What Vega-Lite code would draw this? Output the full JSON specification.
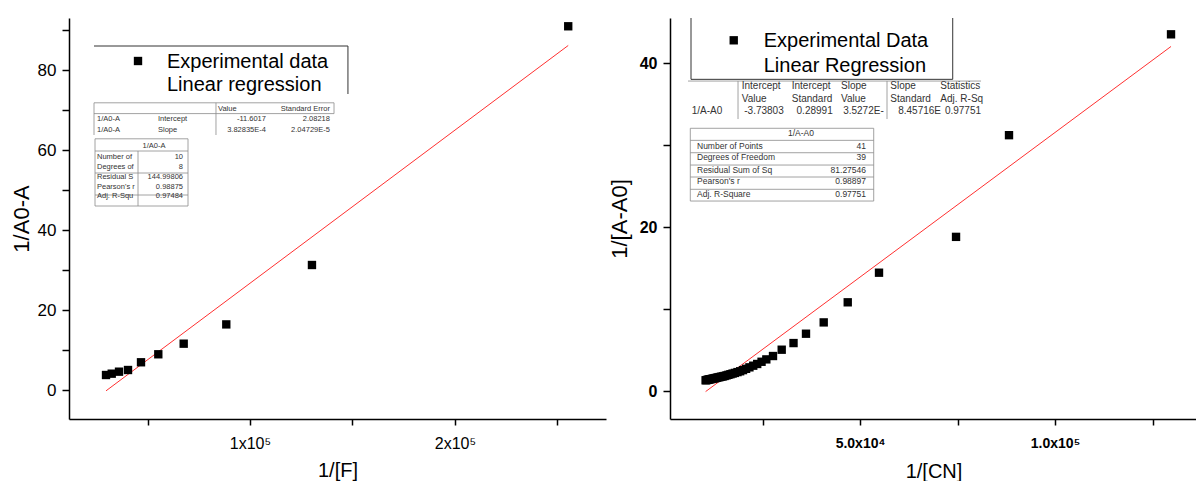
{
  "$schema": "https://vega.github.io/schema/vega-lite/v6.json",
  "background": "white",
  "padding": {"left": 10, "top": 17, "right": 0, "bottom": 0},
  "spacing": 64,
  "bounds": "flush",
  "config": {
    "view": {"stroke": null},
    "font": "Liberation Sans",
    "axis": {
      "grid": false,
      "domainColor": "black",
      "domainWidth": 1.5,
      "tickColor": "black",
      "tickWidth": 1.5,
      "labelColor": "black",
      "titleColor": "black",
      "titleFontWeight": "normal",
      "labelOverlap": false,
      "labelFlush": false,
      "labelFont": "Liberation Sans",
      "titleFont": "Liberation Sans"
    }
  },
  "datasets": {
    "left_pts": [
      {"x": 29760, "y": 3.75}, {"x": 32540, "y": 4.08}, {"x": 36100, "y": 4.58},
      {"x": 40490, "y": 5.0}, {"x": 46830, "y": 6.93}, {"x": 55270, "y": 8.93},
      {"x": 67660, "y": 11.58}, {"x": 88440, "y": 16.4}, {"x": 130240, "y": 31.25},
      {"x": 255270, "y": 90.93}
    ],
    "left_fit": [{"x": 29760, "y": -0.208}, {"x": 255270, "y": 86.13}],
    "left_mk": [{"x": 45370, "y": 82.25}],
    "left_txt": [
      {"k": "leg", "x": 59510, "y": 80.5, "t": "Experimental data"},
      {"k": "leg", "x": 59510, "y": 74.75, "t": "Linear regression"},
      {"k": "tl", "x": 84390, "y": 69.75, "t": "Value"},
      {"k": "tr", "x": 139000, "y": 69.75, "t": "Standard Error"},
      {"k": "tl", "x": 25370, "y": 67.25, "t": "1/A0-A"},
      {"k": "tl", "x": 55120, "y": 67.25, "t": "Intercept"},
      {"k": "tr", "x": 107800, "y": 67.25, "t": "-11.6017"},
      {"k": "tr", "x": 139000, "y": 67.25, "t": "2.08218"},
      {"k": "tl", "x": 25370, "y": 64.6, "t": "1/A0-A"},
      {"k": "tl", "x": 55120, "y": 64.6, "t": "Slope"},
      {"k": "tr", "x": 107800, "y": 64.6, "t": "3.82835E-4"},
      {"k": "tr", "x": 139000, "y": 64.6, "t": "2.04729E-5"},
      {"k": "tc", "x": 53170, "y": 60.5, "t": "1/A0-A"},
      {"k": "tl", "x": 25370, "y": 57.75, "t": "Number of"},
      {"k": "tr", "x": 67320, "y": 57.75, "t": "10"},
      {"k": "tl", "x": 25370, "y": 55.25, "t": "Degrees of"},
      {"k": "tr", "x": 67320, "y": 55.25, "t": "8"},
      {"k": "tl", "x": 25370, "y": 52.75, "t": "Residual S"},
      {"k": "tr", "x": 67320, "y": 52.75, "t": "144.99806"},
      {"k": "tl", "x": 25370, "y": 50.25, "t": "Pearson's r"},
      {"k": "tr", "x": 67320, "y": 50.25, "t": "0.98875"},
      {"k": "tl", "x": 25370, "y": 48.0, "t": "Adj. R-Squ"},
      {"k": "tr", "x": 67320, "y": 48.0, "t": "0.97484"}
    ],
    "left_rules": [
      {"k": "lb", "x": 23900, "x2": 147800, "y": 86, "y2": 86},
      {"k": "lb", "x": 147800, "x2": 147800, "y": 86, "y2": 74},
      {"k": "tb", "x": 23900, "x2": 141000, "y": 71.8, "y2": 71.8},
      {"k": "tb", "x": 23900, "x2": 23900, "y": 71.8, "y2": 63.75},
      {"k": "tb", "x": 83410, "x2": 83410, "y": 71.8, "y2": 63.75},
      {"k": "tb", "x": 141000, "x2": 141000, "y": 71.8, "y2": 69.1},
      {"k": "tb", "x": 23900, "x2": 141000, "y": 69.1, "y2": 69.1},
      {"k": "tb", "x": 24390, "x2": 69760, "y": 62.8, "y2": 62.8},
      {"k": "tb", "x": 24390, "x2": 69760, "y": 46, "y2": 46},
      {"k": "tb", "x": 24390, "x2": 24390, "y": 62.8, "y2": 46},
      {"k": "tb", "x": 69760, "x2": 69760, "y": 62.8, "y2": 46},
      {"k": "tb", "x": 24390, "x2": 69760, "y": 59.75, "y2": 59.75},
      {"k": "tb", "x": 45370, "x2": 45370, "y": 59.75, "y2": 46},
      {"k": "tb", "x": 24390, "x2": 69760, "y": 54.25, "y2": 54.25},
      {"k": "tb", "x": 24390, "x2": 69760, "y": 48.75, "y2": 48.75}
    ],
    "right_pts": [
      {"x": 10406, "y": 1.31}, {"x": 10616, "y": 1.33}, {"x": 10846, "y": 1.36},
      {"x": 11074, "y": 1.38}, {"x": 11312, "y": 1.41}, {"x": 11561, "y": 1.44},
      {"x": 11820, "y": 1.46}, {"x": 12107, "y": 1.49}, {"x": 12392, "y": 1.52},
      {"x": 12690, "y": 1.56}, {"x": 13004, "y": 1.59}, {"x": 13333, "y": 1.63},
      {"x": 13699, "y": 1.67}, {"x": 14065, "y": 1.71}, {"x": 14451, "y": 1.75},
      {"x": 14859, "y": 1.79}, {"x": 15291, "y": 1.84}, {"x": 15773, "y": 1.91},
      {"x": 16260, "y": 1.98}, {"x": 16779, "y": 2.05}, {"x": 17331, "y": 2.13},
      {"x": 17921, "y": 2.21}, {"x": 18587, "y": 2.31}, {"x": 19268, "y": 2.41},
      {"x": 20000, "y": 2.55}, {"x": 20790, "y": 2.71}, {"x": 21645, "y": 2.89},
      {"x": 22624, "y": 3.09}, {"x": 23641, "y": 3.30}, {"x": 24752, "y": 3.57},
      {"x": 25974, "y": 3.86}, {"x": 27690, "y": 4.27}, {"x": 29920, "y": 5.04},
      {"x": 32950, "y": 5.85}, {"x": 36150, "y": 6.99}, {"x": 40690, "y": 8.37},
      {"x": 46850, "y": 10.82}, {"x": 54870, "y": 14.43}, {"x": 74620, "y": 18.8},
      {"x": 88200, "y": 31.2}, {"x": 129740, "y": 43.5}
    ],
    "right_fit": [{"x": 10406, "y": -0.068}, {"x": 129740, "y": 42.02}],
    "right_mk": [{"x": 17620, "y": 42.77}],
    "right_txt": [
      {"k": "leg", "x": 25310, "y": 41.95, "t": "Experimental Data"},
      {"k": "leg", "x": 25310, "y": 38.94, "t": "Linear Regression"},
      {"k": "al", "x": 19670, "y": 36.79, "t": "Intercept"},
      {"k": "al", "x": 19670, "y": 35.24, "t": "Value"},
      {"k": "al", "x": 32490, "y": 36.79, "t": "Intercept"},
      {"k": "al", "x": 32490, "y": 35.24, "t": "Standard"},
      {"k": "al", "x": 45130, "y": 36.79, "t": "Slope"},
      {"k": "al", "x": 45130, "y": 35.24, "t": "Value"},
      {"k": "al", "x": 57770, "y": 36.79, "t": "Slope"},
      {"k": "al", "x": 57770, "y": 35.24, "t": "Standard"},
      {"k": "al", "x": 70590, "y": 36.79, "t": "Statistics"},
      {"k": "al", "x": 70590, "y": 35.24, "t": "Adj. R-Sq"},
      {"k": "al", "x": 6846, "y": 33.74, "t": "1/A-A0"},
      {"k": "ar", "x": 30440, "y": 33.74, "t": "-3.73803"},
      {"k": "ar", "x": 43000, "y": 33.74, "t": "0.28991"},
      {"k": "ar", "x": 56080, "y": 33.74, "t": "3.5272E-"},
      {"k": "ar", "x": 70770, "y": 33.74, "t": "8.45716E"},
      {"k": "ar", "x": 81030, "y": 33.74, "t": "0.97751"},
      {"k": "bc", "x": 34870, "y": 31.1, "t": "1/A-A0"},
      {"k": "bl", "x": 8205, "y": 29.55, "t": "Number of Points"},
      {"k": "br", "x": 51540, "y": 29.55, "t": "41"},
      {"k": "bl", "x": 8205, "y": 28.13, "t": "Degrees of Freedom"},
      {"k": "br", "x": 51540, "y": 28.13, "t": "39"},
      {"k": "bl", "x": 8205, "y": 26.62, "t": "Residual Sum of Sq"},
      {"k": "br", "x": 51540, "y": 26.62, "t": "81.27546"},
      {"k": "bl", "x": 8205, "y": 25.21, "t": "Pearson's r"},
      {"k": "br", "x": 51540, "y": 25.21, "t": "0.98897"},
      {"k": "bl", "x": 8205, "y": 23.7, "t": "Adj. R-Square"},
      {"k": "br", "x": 51540, "y": 23.7, "t": "0.97751"}
    ],
    "right_rules": [
      {"k": "lb", "x": 6667, "x2": 6667, "y": 45.49, "y2": 38.01},
      {"k": "lb", "x": 73770, "x2": 73770, "y": 45.49, "y2": 38.01},
      {"k": "lb", "x": 6667, "x2": 73770, "y": 38.01, "y2": 38.01},
      {"k": "tb", "x": 5897, "x2": 81030, "y": 37.8, "y2": 37.8},
      {"k": "tb", "x": 18720, "x2": 18720, "y": 37.8, "y2": 33.17},
      {"k": "tb", "x": 56920, "x2": 56920, "y": 37.8, "y2": 33.17},
      {"k": "tb", "x": 6487, "x2": 53510, "y": 32.04, "y2": 32.04},
      {"k": "tb", "x": 6487, "x2": 53510, "y": 23.17, "y2": 23.17},
      {"k": "tb", "x": 6487, "x2": 6487, "y": 32.04, "y2": 23.17},
      {"k": "tb", "x": 53510, "x2": 53510, "y": 32.04, "y2": 23.17},
      {"k": "tb", "x": 6487, "x2": 53510, "y": 30.57, "y2": 30.57},
      {"k": "tb", "x": 6487, "x2": 53510, "y": 29.06, "y2": 29.06},
      {"k": "tb", "x": 6487, "x2": 53510, "y": 27.56, "y2": 27.56},
      {"k": "tb", "x": 6487, "x2": 53510, "y": 26.1, "y2": 26.1},
      {"k": "tb", "x": 6487, "x2": 53510, "y": 24.6, "y2": 24.6}
    ]
  },
  "hconcat": [
    {
      "width": 537,
      "height": 401,
      "encoding": {
        "x": {
          "field": "x", "type": "quantitative",
          "scale": {"domain": [11700, 273700], "nice": false, "zero": false},
          "axis": {
            "values": [50000, 100000, 150000, 200000, 250000],
            "labelExpr": "datum.value == 100000 ? '1x10⁵' : (datum.value == 200000 ? '2x10⁵' : '')",
            "title": "1/[F]", "tickSize": 6, "labelFontSize": 16, "labelPadding": 10,
            "titleFontSize": 20, "titlePadding": 9
          }
        },
        "y": {
          "field": "y", "type": "quantitative",
          "scale": {"domain": [-7.25, 93], "nice": false, "zero": false},
          "axis": {
            "values": [0, 10, 20, 30, 40, 50, 60, 70, 80, 90],
            "labelExpr": "datum.value % 20 == 0 ? datum.label : ''",
            "title": "1/A0-A", "tickSize": 7, "labelFontSize": 17, "labelPadding": 6,
            "titleFontSize": 22, "titlePadding": 4
          }
        }
      },
      "layer": [
        {
          "data": {"name": "left_rules"},
          "transform": [{"filter": "datum.k == 'lb'"}],
          "mark": {"type": "rule", "color": "#333333", "strokeWidth": 1},
          "encoding": {"x2": {"field": "x2"}, "y2": {"field": "y2"}}
        },
        {
          "data": {"name": "left_rules"},
          "transform": [{"filter": "datum.k == 'tb'"}],
          "mark": {"type": "rule", "color": "#8a8a8a", "strokeWidth": 0.8},
          "encoding": {"x2": {"field": "x2"}, "y2": {"field": "y2"}}
        },
        {
          "data": {"name": "left_fit"},
          "mark": {"type": "line", "color": "#ff3030", "strokeWidth": 1},
          "encoding": {}
        },
        {
          "data": {"name": "left_pts"},
          "mark": {"type": "square", "size": 70, "color": "black", "opacity": 1, "filled": true}
        },
        {
          "data": {"name": "left_mk"},
          "mark": {"type": "square", "size": 70, "color": "black", "opacity": 1, "filled": true}
        },
        {
          "data": {"name": "left_txt"},
          "transform": [{"filter": "datum.k == 'leg'"}],
          "mark": {"type": "text", "align": "left", "baseline": "alphabetic", "fontSize": 20, "color": "black"},
          "encoding": {"text": {"field": "t"}}
        },
        {
          "data": {"name": "left_txt"},
          "transform": [{"filter": "datum.k == 'tl'"}],
          "mark": {"type": "text", "align": "left", "baseline": "alphabetic", "fontSize": 7.5, "color": "#333333"},
          "encoding": {"text": {"field": "t"}}
        },
        {
          "data": {"name": "left_txt"},
          "transform": [{"filter": "datum.k == 'tr'"}],
          "mark": {"type": "text", "align": "right", "baseline": "alphabetic", "fontSize": 7.5, "color": "#333333"},
          "encoding": {"text": {"field": "t"}}
        },
        {
          "data": {"name": "left_txt"},
          "transform": [{"filter": "datum.k == 'tc'"}],
          "mark": {"type": "text", "align": "center", "baseline": "alphabetic", "fontSize": 7.5, "color": "#333333"},
          "encoding": {"text": {"field": "t"}}
        }
      ]
    },
    {
      "width": 527,
      "height": 401,
      "encoding": {
        "x": {
          "field": "x", "type": "quantitative",
          "scale": {"domain": [1280, 136400], "nice": false, "zero": false},
          "axis": {
            "values": [25000, 50000, 75000, 100000, 125000],
            "labelExpr": "datum.value == 50000 ? '5.0x10⁴' : (datum.value == 100000 ? '1.0x10⁵' : '')",
            "title": "1/[CN]", "tickSize": 6, "labelFontSize": 14, "labelFontWeight": "bold",
            "labelPadding": 11, "titleFontSize": 20, "titlePadding": 11
          }
        },
        "y": {
          "field": "y", "type": "quantitative",
          "scale": {"domain": [-3.41, 45.49], "nice": false, "zero": false},
          "axis": {
            "values": [0, 10, 20, 30, 40],
            "labelExpr": "datum.value % 20 == 0 ? datum.label : ''",
            "title": "1/[A-A0]", "tickSize": 7, "labelFontSize": 16, "labelFontWeight": "bold",
            "labelPadding": 6, "titleFontSize": 22, "titlePadding": 8
          }
        }
      },
      "layer": [
        {
          "data": {"name": "right_rules"},
          "transform": [{"filter": "datum.k == 'lb'"}],
          "mark": {"type": "rule", "color": "#333333", "strokeWidth": 1},
          "encoding": {"x2": {"field": "x2"}, "y2": {"field": "y2"}}
        },
        {
          "data": {"name": "right_rules"},
          "transform": [{"filter": "datum.k == 'tb'"}],
          "mark": {"type": "rule", "color": "#8a8a8a", "strokeWidth": 0.8},
          "encoding": {"x2": {"field": "x2"}, "y2": {"field": "y2"}}
        },
        {
          "data": {"name": "right_fit"},
          "mark": {"type": "line", "color": "#ff3030", "strokeWidth": 1},
          "encoding": {}
        },
        {
          "data": {"name": "right_pts"},
          "mark": {"type": "square", "size": 70, "color": "black", "opacity": 1, "filled": true}
        },
        {
          "data": {"name": "right_mk"},
          "mark": {"type": "square", "size": 70, "color": "black", "opacity": 1, "filled": true}
        },
        {
          "data": {"name": "right_txt"},
          "transform": [{"filter": "datum.k == 'leg'"}],
          "mark": {"type": "text", "align": "left", "baseline": "alphabetic", "fontSize": 20, "color": "black"},
          "encoding": {"text": {"field": "t"}}
        },
        {
          "data": {"name": "right_txt"},
          "transform": [{"filter": "datum.k == 'al'"}],
          "mark": {"type": "text", "align": "left", "baseline": "alphabetic", "fontSize": 10, "color": "#333333"},
          "encoding": {"text": {"field": "t"}}
        },
        {
          "data": {"name": "right_txt"},
          "transform": [{"filter": "datum.k == 'ar'"}],
          "mark": {"type": "text", "align": "right", "baseline": "alphabetic", "fontSize": 10, "color": "#333333"},
          "encoding": {"text": {"field": "t"}}
        },
        {
          "data": {"name": "right_txt"},
          "transform": [{"filter": "datum.k == 'bl'"}],
          "mark": {"type": "text", "align": "left", "baseline": "alphabetic", "fontSize": 8.5, "color": "#333333"},
          "encoding": {"text": {"field": "t"}}
        },
        {
          "data": {"name": "right_txt"},
          "transform": [{"filter": "datum.k == 'br'"}],
          "mark": {"type": "text", "align": "right", "baseline": "alphabetic", "fontSize": 8.5, "color": "#333333"},
          "encoding": {"text": {"field": "t"}}
        },
        {
          "data": {"name": "right_txt"},
          "transform": [{"filter": "datum.k == 'bc'"}],
          "mark": {"type": "text", "align": "center", "baseline": "alphabetic", "fontSize": 8.5, "color": "#333333"},
          "encoding": {"text": {"field": "t"}}
        }
      ]
    }
  ]
}
